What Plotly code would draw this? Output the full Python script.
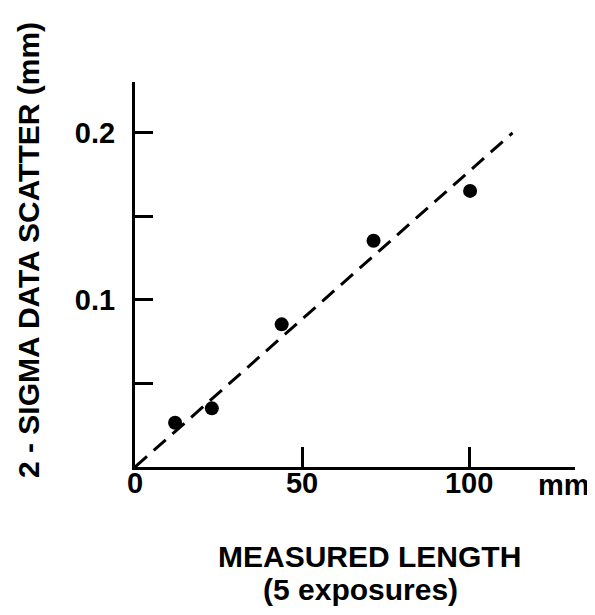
import plotly.graph_objects as go

# Data
measured_length = [12.0, 23.0, 43.9, 71.4, 100.3]
sigma_scatter = [0.0265, 0.0351, 0.0854, 0.1355, 0.1653]
fit_x = [0, 113]
fit_y = [0, 0.2]

x_tickvals = [0, 50, 100]
x_ticktext = ["0", "50", "100"]
y_tickvals = [0.05, 0.1, 0.15, 0.2]
y_ticktext = ["", "0.1", "", "0.2"]

FONT = "Liberation Sans, Arial, sans-serif"

fig = go.Figure()
fig.add_trace(go.Scatter(x=fit_x, y=fit_y, mode="lines",
                         line=dict(color="black", width=3, dash="16px,9px"),
                         showlegend=False, hoverinfo="skip"))
fig.add_trace(go.Scatter(x=measured_length, y=sigma_scatter, mode="markers",
                         marker=dict(color="black", size=14),
                         showlegend=False))

OFF = 8  # page body margin
W, H = 595 - OFF, 615 - OFF
L, R, T, B = 135 - OFF, 20, 82 - OFF, 148
pw, ph = W - L - R, H - T - B

def px(xs):
    return (xs - OFF - L) / pw

def py(ys):
    return (H - B - (ys - OFF)) / ph

fig.update_layout(
    width=W, height=H,
    margin=dict(l=L, r=R, t=T, b=B, pad=0),
    paper_bgcolor="white", plot_bgcolor="white",
    font=dict(family=FONT, size=29, color="black"),
    xaxis=dict(range=[0, 131.7], showgrid=False, zeroline=False,
               showline=True, linecolor="black", linewidth=3,
               ticks="inside", ticklen=20, tickwidth=2.5, tickcolor="black",
               tickvals=x_tickvals, ticktext=x_ticktext,
               tickfont=dict(family=FONT, size=29, color="black", weight="bold"),
               ticklabelstandoff=-12),
    yaxis=dict(range=[0, 0.2305], showgrid=False, zeroline=False,
               showline=True, linecolor="black", linewidth=3,
               ticks="inside", ticklen=18, tickwidth=2.5, tickcolor="black",
               tickvals=y_tickvals, ticktext=y_ticktext,
               tickfont=dict(family=FONT, size=29, color="black", weight="bold"),
               ticklabelstandoff=11),
    annotations=[
        dict(text="<b>mm</b>", xref="paper", yref="paper", x=px(564), y=py(485),
             xanchor="center", yanchor="middle", showarrow=False,
             font=dict(family=FONT, size=29, color="black")),
        dict(text="<b>MEASURED LENGTH</b>", xref="paper", yref="paper",
             x=px(369), y=py(556), xanchor="center", yanchor="middle",
             showarrow=False, font=dict(family=FONT, size=30, color="black")),
        dict(text="<b>(5 exposures)</b>", xref="paper", yref="paper",
             x=px(360), y=py(589), xanchor="center", yanchor="middle",
             showarrow=False, font=dict(family=FONT, size=30, color="black")),
        dict(text="<b>2 - SIGMA DATA SCATTER (mm)</b>", xref="paper", yref="paper",
             x=px(28), y=py(250), xanchor="center", yanchor="middle",
             textangle=-90, showarrow=False, borderpad=0,
             font=dict(family=FONT, size=30, color="black")),
    ],
)

fig.write_html("out.html")
